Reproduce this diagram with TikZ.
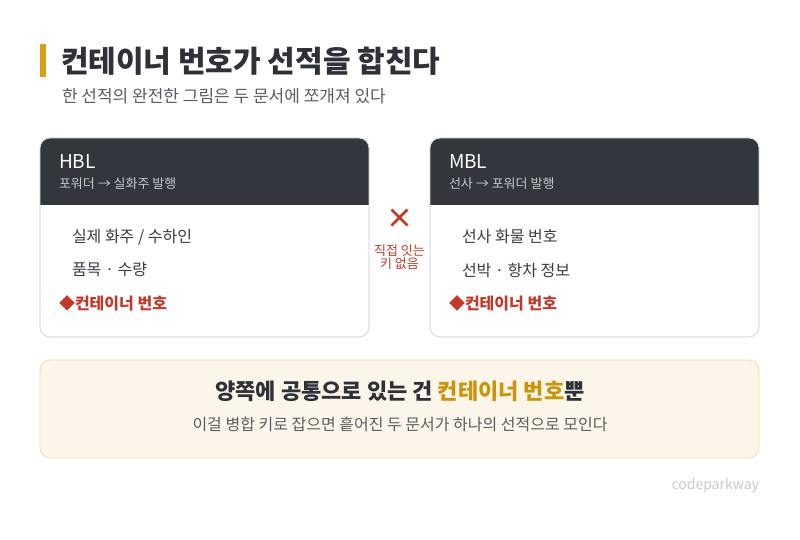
\documentclass[tikz,border=0pt]{standalone}
\usepackage{fontspec}
\setmainfont{Noto Sans CJK KR}
\definecolor{accent}{HTML}{D4A017}
\definecolor{titlec}{HTML}{2E3138}
\definecolor{subc}{HTML}{5A5D63}
\definecolor{headc}{HTML}{33363D}
\definecolor{headsub}{HTML}{C4C6CC}
\definecolor{borderc}{HTML}{DEDFE2}
\definecolor{itemc}{HTML}{3A3D44}
\definecolor{redc}{HTML}{C0392B}
\definecolor{boxfill}{HTML}{FCF5E9}
\definecolor{boxborder}{HTML}{F0DFB0}
\definecolor{goldc}{HTML}{C8950C}
\definecolor{markc}{HTML}{C8C9CE}
\tikzset{
  fs/.style={font=\fontsize{#1}{#1}\selectfont},
  lbl/.style={inner sep=0pt, outer sep=0pt},
  item/.style={lbl, anchor=west, text=itemc, fs=16},
  keyitem/.style={lbl, anchor=west, text=redc, font=\fontsize{16}{16}\selectfont\bfseries},
  headtitle/.style={lbl, anchor=west, text=white, fs=19},
  headsubt/.style={lbl, anchor=west, text=headsub, fs=13},
  card/.style={fill=white, draw=borderc, line width=0.8pt, rounded corners=10pt},
}
\begin{document}
\begin{tikzpicture}[x=1pt,y=-1pt]
\useasboundingbox (0,0) rectangle (800,539);
\fill[white] (0,0) rectangle (800,539);
% title
\fill[accent] (40,44) rectangle (46,77);
\node[lbl, anchor=west, text=titlec, font=\fontsize{30}{30}\selectfont\bfseries] (title) at (61,61) {컨테이너 번호가 선적을 합친다};
\node[lbl, anchor=west, text=subc, fs=17] (sub) at (62,96) {한 선적의 완전한 그림은 두 문서에 쪼개져 있다};
% left card
\path[card] (40,138) rectangle (369,337);
\begin{scope}
\clip[rounded corners=10pt] (40,138) rectangle (369,337);
\fill[headc] (40,138) rectangle (369,205);
\end{scope}
\draw[borderc, line width=0.8pt, rounded corners=10pt] (40,138) rectangle (369,337);
\node[headtitle] (hbl) at (59,162) {HBL};
\node[headsubt] (hblsub) at (59,184) {포워더 → 실화주 발행};
\node[item] (h1) at (72,237) {실제 화주 / 수하인};
\node[item] (h2) at (72,270) {품목 · 수량};
\node[keyitem] (h3) at (59,303) {◆컨테이너 번호};
% right card
\path[card] (430,138) rectangle (759,337);
\begin{scope}
\clip[rounded corners=10pt] (430,138) rectangle (759,337);
\fill[headc] (430,138) rectangle (759,205);
\end{scope}
\draw[borderc, line width=0.8pt, rounded corners=10pt] (430,138) rectangle (759,337);
\node[headtitle] (mbl) at (449,162) {MBL};
\node[headsubt] (mblsub) at (449,184) {선사 → 포워더 발행};
\node[item] (m1) at (462,237) {선사 화물 번호};
\node[item] (m2) at (462,270) {선박 · 항차 정보};
\node[keyitem] (m3) at (449,303) {◆컨테이너 번호};
% cross
\draw[redc, line width=2.8pt] (391.5,209.5) -- (407.5,225.5) (407.5,209.5) -- (391.5,225.5);
\coordinate (x) at (399.5,217.5);
\node[lbl, text=redc, fs=13, align=center] (nokey) at (399.5,257) {직접 잇는\\[0pt]키 없음};
% bottom box
\draw[fill=boxfill, draw=boxborder, line width=0.8pt, rounded corners=10pt] (40,360) rectangle (759,458);
\node[lbl, text=titlec, font=\fontsize{22}{22}\selectfont\bfseries] (concl) at (400,391) {양쪽에 공통으로 있는 건 \textcolor{goldc}{컨테이너 번호}뿐};
\node[lbl, text=subc, fs=16] (concl2) at (400,424) {이걸 병합 키로 잡으면 흩어진 두 문서가 하나의 선적으로 모인다};
% watermark
\node[lbl, anchor=east, text=markc, fs=14] (mark) at (759,486) {codeparkway};
\end{tikzpicture}
\end{document}
